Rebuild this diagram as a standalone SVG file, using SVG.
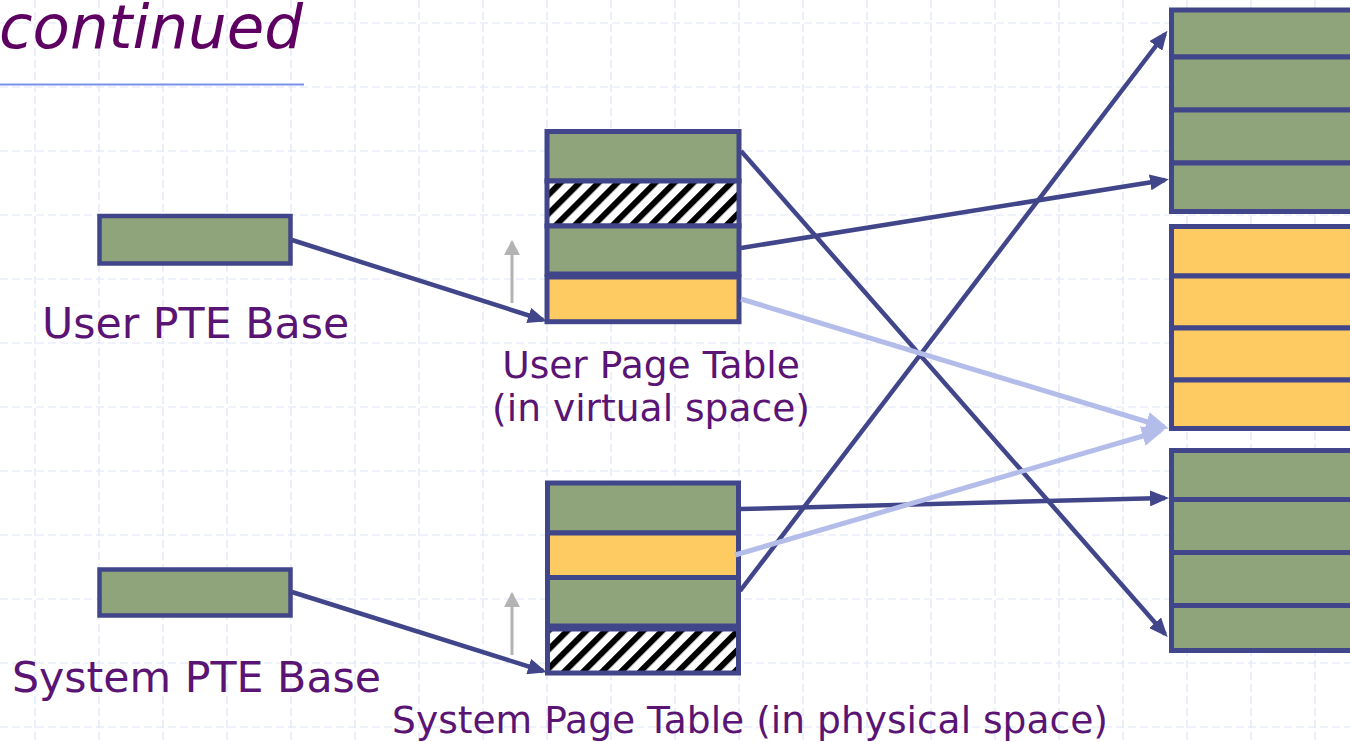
<svg xmlns="http://www.w3.org/2000/svg" width="1350" height="742" viewBox="0 0 1350 742">
<defs>
<style>
.grid{stroke:#dfe5f8;stroke-width:1.2;stroke-dasharray:8 4;fill:none}
.g{fill:#8fa47a;stroke:#414589;stroke-width:5}
.y{fill:#fecb63;stroke:#414589;stroke-width:5}
.h{fill:url(#hatch);stroke:#414589;stroke-width:5}
.pte{fill:#8fa47a;stroke:#414589;stroke-width:4.5}
.dark{stroke:#414589;stroke-width:4.5;fill:none;marker-end:url(#ad)}
.light{stroke:#b4bde9;stroke-width:5;fill:none;marker-end:url(#al)}
.up{stroke:#b3b3b3;stroke-width:3;fill:none;marker-end:url(#ag)}
.lbl{font-family:"DejaVu Sans",Verdana,sans-serif;fill:#5a1474}
</style>
<pattern id="hatch" patternUnits="userSpaceOnUse" width="13.4" height="13.4" patternTransform="rotate(45)">
<rect width="13.4" height="13.4" fill="#ffffff"/>
<rect width="6" height="13.4" fill="#000000"/>
</pattern>
<marker id="ad" markerUnits="userSpaceOnUse" markerWidth="20" markerHeight="16" refX="15" refY="8" orient="auto">
<path d="M0,0 L19,8 L0,16 z" fill="#414589"/>
</marker>
<marker id="al" markerUnits="userSpaceOnUse" markerWidth="24" markerHeight="20" refX="18" refY="10" orient="auto">
<path d="M0,0 L23,10 L0,20 z" fill="#b4bde9"/>
</marker>
<marker id="ag" markerUnits="userSpaceOnUse" markerWidth="16" markerHeight="16" refX="13" refY="8" orient="auto">
<path d="M0,0 L15,8 L0,16 z" fill="#b3b3b3"/>
</marker>
</defs>
<rect width="1350" height="742" fill="#ffffff"/>
<path class="grid" d="M35,0V742M99,0V742M163,0V742M227,0V742M291,0V742M355,0V742M419,0V742M483,0V742M547,0V742M611,0V742M675,0V742M739,0V742M803,0V742M867,0V742M931,0V742M995,0V742M1059,0V742M1123,0V742M1187,0V742M1251,0V742M1315,0V742M0,23H1350M0,87H1350M0,151H1350M0,215H1350M0,279H1350M0,343H1350M0,407H1350M0,471H1350M0,535H1350M0,599H1350M0,663H1350M0,727H1350"/>
<g id="title">
<text x="303" y="48" font-family="'DejaVu Sans',Verdana,sans-serif" font-style="italic" font-size="61" fill="#5e0062" text-anchor="end">continued</text>
<line x1="0" y1="84.5" x2="304" y2="84.5" stroke="#7a93e6" stroke-width="2"/>
</g>
<g id="user-pte-base">
<rect class="pte" x="99.5" y="216" width="191" height="47.5"/>
<text class="lbl" x="42" y="338" font-size="42.7">User PTE Base</text>
</g>
<g id="system-pte-base">
<rect class="pte" x="99.5" y="569.5" width="191" height="46"/>
<text class="lbl" x="12" y="692" font-size="42.7">System PTE Base</text>
</g>
<g id="user-page-table">
<rect class="g" x="547" y="131.5" width="192" height="49.5"/>
<rect class="h" x="547" y="181" width="192" height="45"/>
<rect class="g" x="547" y="226" width="192" height="48"/>
<rect class="y" x="547" y="277" width="192" height="44.7"/>
<line class="up" x1="512" y1="303" x2="512" y2="242"/>
<text class="lbl" x="651" y="378" font-size="37.6" text-anchor="middle">User Page Table</text>
<text class="lbl" x="651" y="421" font-size="37.6" text-anchor="middle">(in virtual space)</text>
</g>
<g id="system-page-table">
<rect class="g" x="547.5" y="483" width="191" height="50"/>
<rect class="y" x="547.5" y="533" width="191" height="44.5"/>
<rect class="g" x="547.5" y="577.5" width="191" height="48.5"/>
<rect class="h" x="547.5" y="629" width="191" height="44"/>
<line class="up" x1="512" y1="655" x2="512" y2="594"/>
<text class="lbl" x="750" y="733" font-size="37.6" text-anchor="middle">System Page Table (in physical space)</text>
</g>
<g id="phys-green-top">
<rect class="g" x="1171.5" y="10" width="200" height="47"/>
<rect class="g" x="1171.5" y="57" width="200" height="53"/>
<rect class="g" x="1171.5" y="110" width="200" height="53"/>
<rect class="g" x="1171.5" y="163" width="200" height="48.5"/>
</g>
<g id="phys-yellow">
<rect class="y" x="1171.5" y="226.5" width="200" height="49.5"/>
<rect class="y" x="1171.5" y="276" width="200" height="52"/>
<rect class="y" x="1171.5" y="328" width="200" height="52"/>
<rect class="y" x="1171.5" y="380" width="200" height="48.5"/>
</g>
<g id="phys-green-bottom">
<rect class="g" x="1171.5" y="450.5" width="200" height="49"/>
<rect class="g" x="1171.5" y="499.5" width="200" height="53"/>
<rect class="g" x="1171.5" y="552.5" width="200" height="53"/>
<rect class="g" x="1171.5" y="605.5" width="200" height="45"/>
</g>
<g id="connectors">
<line class="dark" x1="292" y1="240" x2="543" y2="320"/>
<line class="dark" x1="292" y1="592" x2="543" y2="671"/>
<line class="dark" x1="741" y1="151" x2="1165" y2="634"/>
<line class="dark" x1="741" y1="248" x2="1165" y2="180"/>
<line class="dark" x1="740" y1="509" x2="1165" y2="498"/>
<line class="dark" x1="740" y1="591" x2="1165" y2="34"/>
<line class="light" x1="741" y1="299" x2="1164" y2="427"/>
<line class="light" x1="735" y1="555" x2="1160" y2="431"/>
</g>
</svg>
